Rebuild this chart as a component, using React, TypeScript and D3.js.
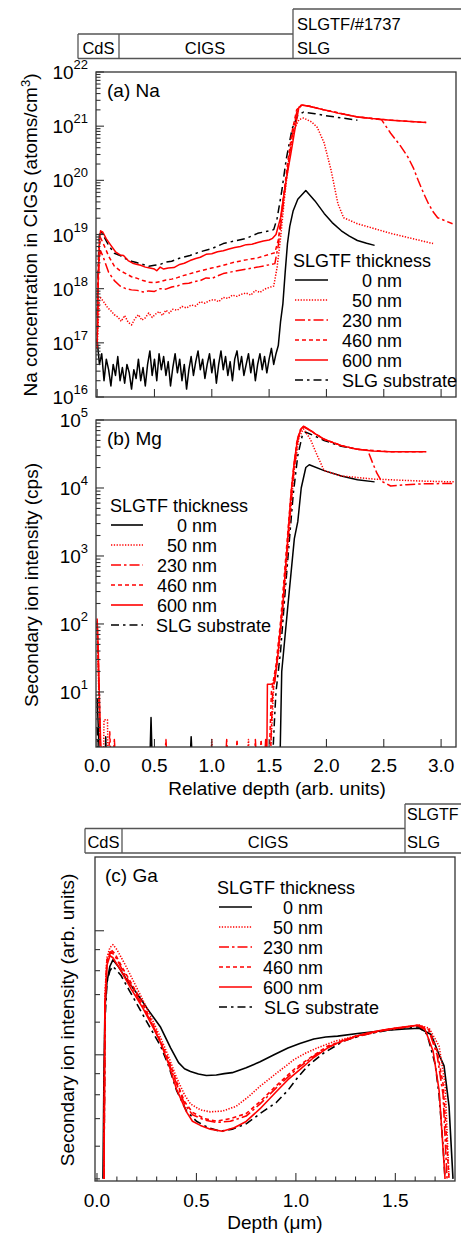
import React from "react";
import * as d3 from "d3";

type P = [number, number][];

// ---------------- Panel (a) Na concentration (atoms/cm3) vs relative depth ----------------
const na0nm: P = [
  [0.0, 1.12e17], [0.02, 4.0e16], [0.04, 6.3e16], [0.06, 2.0e16], [0.08, 5.0e16], [0.1, 3.2e16],
  [0.12, 1.6e16], [0.14, 4.0e16], [0.16, 2.5e16], [0.18, 5.6e16], [0.2, 2.0e16], [0.22, 3.5e16],
  [0.24, 1.8e16], [0.26, 4.0e16], [0.28, 2.8e16], [0.3, 1.4e16], [0.32, 3.2e16], [0.34, 2.2e16],
  [0.36, 5.0e16], [0.38, 2.0e16], [0.4, 3.5e16], [0.42, 1.6e16], [0.44, 4.0e16], [0.46, 7.1e16],
  [0.48, 2.5e16], [0.5, 5.0e16], [0.52, 2.0e16], [0.54, 6.3e16], [0.56, 3.2e16], [0.58, 5.6e16],
  [0.6, 2.5e16], [0.62, 4.5e16], [0.64, 1.6e16], [0.66, 3.5e16], [0.68, 6.3e16], [0.7, 2.8e16],
  [0.72, 5.0e16], [0.74, 2.0e16], [0.76, 4.0e16], [0.78, 1.4e16], [0.8, 3.2e16], [0.82, 5.6e16],
  [0.84, 2.5e16], [0.86, 4.5e16], [0.88, 7.1e16], [0.9, 3.2e16], [0.92, 5.0e16], [0.94, 2.2e16],
  [0.96, 4.0e16], [0.98, 6.3e16], [1.0, 2.8e16], [1.02, 5.0e16], [1.04, 1.8e16], [1.06, 4.0e16],
  [1.08, 7.1e16], [1.1, 3.2e16], [1.12, 5.6e16], [1.14, 2.5e16], [1.16, 4.5e16], [1.18, 2.0e16],
  [1.2, 5.0e16], [1.22, 7.1e16], [1.24, 3.2e16], [1.26, 5.6e16], [1.28, 2.5e16], [1.3, 4.0e16],
  [1.32, 6.3e16], [1.34, 2.8e16], [1.36, 5.0e16], [1.38, 2.0e16], [1.4, 4.0e16], [1.42, 6.3e16],
  [1.44, 3.2e16], [1.46, 5.6e16], [1.48, 2.8e16], [1.5, 5.0e16], [1.52, 7.9e16], [1.54, 4.0e16],
  [1.56, 6.3e16], [1.58, 8.9e16], [1.6, 2.5e17], [1.62, 5.25e17], [1.64, 2.0e18], [1.66, 6.8e18],
  [1.68, 1.41e19], [1.71, 2.75e19], [1.75, 4.47e19], [1.82, 6.46e19], [1.9, 4.17e19], [1.98, 2.45e19],
  [2.05, 1.66e19], [2.13, 1.17e19], [2.2, 9.3e18], [2.27, 7.76e18], [2.35, 6.9e18], [2.42, 6.3e18],
];
const na50nm: P = [
  [0.0, 7.9e16], [0.01, 2.5e17], [0.02, 6.3e17], [0.03, 6.8e17], [0.06, 5.6e17], [0.09, 4.5e17],
  [0.12, 3.9e17], [0.15, 3.3e17], [0.18, 3.0e17], [0.21, 2.5e17], [0.24, 3.2e17], [0.27, 2.4e17],
  [0.3, 2.14e17], [0.33, 2.8e17], [0.36, 3.3e17], [0.39, 2.63e17], [0.42, 2.9e17], [0.45, 3.55e17],
  [0.48, 2.95e17], [0.51, 3.4e17], [0.54, 3.8e17], [0.57, 3.2e17], [0.6, 4.0e17], [0.63, 3.55e17],
  [0.66, 4.17e17], [0.7, 4.0e17], [0.74, 4.7e17], [0.78, 4.4e17], [0.82, 5.0e17], [0.86, 4.8e17],
  [0.9, 5.75e17], [0.94, 5.4e17], [0.98, 6.0e17], [1.02, 6.3e17], [1.06, 5.75e17], [1.1, 6.9e17],
  [1.14, 6.6e17], [1.18, 7.6e17], [1.22, 7.2e17], [1.26, 7.9e17], [1.3, 8.3e17], [1.34, 7.6e17],
  [1.38, 9.3e17], [1.42, 8.5e17], [1.46, 9.8e17], [1.5, 1.05e18], [1.54, 1.12e18], [1.57, 2.5e18],
  [1.6, 8.7e18], [1.64, 6.3e19], [1.68, 3.16e20], [1.72, 8.9e20], [1.76, 1.32e21], [1.8, 1.41e21],
  [1.87, 1.2e21], [1.92, 9.5e20], [1.98, 4.9e20], [2.04, 1.55e20], [2.1, 3.7e19], [2.15, 2.04e19],
  [2.27, 1.58e19], [2.56, 1.05e19], [2.93, 6.8e18],
];
const na230nm: P = [
  [0.0, 7.9e16], [0.01, 1.26e18], [0.02, 4.0e18], [0.03, 5.0e18], [0.05, 4.0e18], [0.1, 2.0e18],
  [0.15, 1.41e18], [0.2, 1.12e18], [0.25, 1.0e18], [0.3, 9.5e17], [0.35, 9.3e17], [0.4, 8.7e17],
  [0.45, 9.1e17], [0.5, 8.9e17], [0.55, 1.0e18], [0.6, 9.8e17], [0.65, 1.07e18], [0.7, 1.12e18],
  [0.75, 1.23e18], [0.8, 1.26e18], [0.85, 1.35e18], [0.9, 1.41e18], [0.95, 1.58e18], [1.0, 1.55e18],
  [1.1, 1.9e18], [1.2, 2.1e18], [1.3, 2.3e18], [1.4, 2.5e18], [1.5, 2.75e18], [1.55, 2.9e18],
  [1.58, 6.3e18], [1.62, 3.16e19], [1.66, 1.58e20], [1.7, 6.3e20], [1.74, 1.78e21], [1.78, 2.45e21],
  [1.85, 2.34e21], [1.98, 2.0e21], [2.27, 1.48e21], [2.48, 1.32e21], [2.56, 7.4e20], [2.64, 4.5e20],
  [2.71, 2.7e20], [2.76, 1.66e20], [2.8, 1.0e20], [2.85, 5.6e19], [2.89, 3.7e19], [2.93, 2.63e19],
  [2.97, 2.04e19], [3.04, 1.78e19], [3.1, 1.58e19],
];
const na460nm: P = [
  [0.0, 1.0e17], [0.01, 1.6e18], [0.02, 6.3e18], [0.03, 8.7e18], [0.05, 7.1e18], [0.1, 4.0e18],
  [0.15, 2.6e18], [0.2, 2.14e18], [0.25, 1.9e18], [0.3, 1.66e18], [0.35, 1.55e18], [0.4, 1.41e18],
  [0.45, 1.32e18], [0.5, 1.29e18], [0.55, 1.35e18], [0.6, 1.45e18], [0.65, 1.5e18], [0.7, 1.6e18],
  [0.75, 1.74e18], [0.8, 1.86e18], [0.85, 2.0e18], [0.9, 2.14e18], [1.0, 2.4e18], [1.1, 2.7e18],
  [1.2, 3.1e18], [1.3, 3.4e18], [1.4, 3.7e18], [1.5, 4.3e18], [1.55, 4.6e18], [1.58, 7.9e18],
  [1.62, 4.0e19], [1.66, 2.0e20], [1.7, 7.9e20], [1.74, 2.0e21], [1.78, 2.45e21], [1.85, 2.34e21],
  [1.98, 2.0e21], [2.27, 1.48e21], [2.56, 1.29e21], [2.87, 1.17e21],
];
const na600nm: P = [
  [0.0, 1.0e17], [0.01, 2.0e18], [0.02, 7.9e18], [0.03, 1.17e19], [0.05, 1.1e19], [0.08, 8.3e18],
  [0.12, 6.3e18], [0.16, 4.8e18], [0.2, 4.2e18], [0.23, 4.1e18], [0.27, 3.3e18], [0.31, 2.95e18],
  [0.35, 2.8e18], [0.38, 2.7e18], [0.42, 2.5e18], [0.46, 2.4e18], [0.5, 2.3e18], [0.52, 2.14e18],
  [0.55, 2.5e18], [0.58, 2.3e18], [0.62, 2.4e18], [0.67, 2.45e18], [0.72, 2.8e18], [0.76, 2.95e18],
  [0.81, 3.3e18], [0.86, 3.6e18], [0.9, 3.8e18], [0.95, 4.3e18], [1.0, 4.4e18], [1.05, 4.8e18],
  [1.1, 5.0e18], [1.15, 5.4e18], [1.2, 5.75e18], [1.25, 6.0e18], [1.3, 6.5e18], [1.35, 6.6e18],
  [1.4, 7.1e18], [1.45, 7.6e18], [1.5, 7.9e18], [1.53, 8.5e18], [1.56, 1.0e19], [1.6, 2.04e19],
  [1.64, 7.9e19], [1.69, 3.16e20], [1.73, 1.0e21], [1.76, 2.24e21], [1.79, 2.45e21], [1.85, 2.34e21],
  [1.92, 2.14e21], [1.98, 2.0e21], [2.1, 1.74e21], [2.27, 1.48e21], [2.4, 1.38e21], [2.56, 1.29e21],
  [2.7, 1.23e21], [2.87, 1.17e21],
];
const naSLG: P = [
  [0.0, 3.2e17], [0.01, 3.2e18], [0.02, 1.0e19], [0.03, 1.17e19], [0.05, 1.0e19], [0.1, 6.3e18],
  [0.15, 4.5e18], [0.2, 4.1e18], [0.25, 3.55e18], [0.3, 3.2e18], [0.35, 3.0e18], [0.4, 2.8e18],
  [0.45, 2.6e18], [0.5, 2.7e18], [0.55, 2.8e18], [0.6, 3.1e18], [0.65, 3.2e18], [0.7, 3.55e18],
  [0.81, 4.1e18], [0.9, 4.8e18], [1.0, 5.5e18], [1.1, 6.8e18], [1.2, 7.6e18], [1.3, 8.5e18],
  [1.4, 1.05e19], [1.5, 1.17e19], [1.54, 1.23e19], [1.57, 2.0e19], [1.61, 6.3e19], [1.65, 2.5e20],
  [1.7, 8.9e20], [1.75, 1.58e21], [1.8, 1.82e21], [1.9, 1.7e21], [1.98, 1.58e21], [2.1, 1.45e21],
  [2.27, 1.29e21],
];

// ---------------- Panel (b) Mg secondary ion intensity (cps) ----------------
const mg0nm: P = [
  [0.0, 8], [0.01, 3], [0.02, 1], [0.07, 1], [0.075, 2.2], [0.08, 1], [0.46, 1], [0.47, 4.2], [0.48, 1],
  [0.81, 1], [0.82, 2.2], [0.83, 1], [1.595, 1], [1.61, 20], [1.66, 160], [1.72, 1800], [1.75, 3200],
  [1.78, 10000], [1.82, 20000], [1.85, 22000], [1.98, 18000], [2.13, 15000], [2.27, 13200], [2.42, 12300],
];
const mg50nm: P = [
  [0.0, 90], [0.01, 20], [0.02, 4], [0.03, 1], [0.055, 1], [0.06, 3.9], [0.09, 3.9], [0.095, 1],
  [0.99, 1], [1.0, 2.0], [1.01, 1], [1.31, 1], [1.32, 2.0], [1.33, 1], [1.51, 1], [1.54, 12],
  [1.58, 35], [1.62, 160], [1.66, 1100], [1.69, 5000], [1.72, 19000], [1.76, 55000], [1.8, 74000],
  [1.86, 52000], [1.92, 30000], [1.98, 18000], [2.13, 15000], [2.42, 13500], [2.85, 12600], [3.12, 12300],
];
const mg230nm: P = [
  [0.0, 100], [0.01, 25], [0.02, 5], [0.03, 1], [0.14, 1], [0.15, 2.0], [0.16, 1], [0.59, 1], [0.6, 2.0],
  [0.61, 1], [1.12, 1], [1.13, 2.0], [1.14, 1], [1.37, 1], [1.38, 2.0], [1.39, 1], [1.51, 1], [1.53, 9],
  [1.57, 30], [1.61, 130], [1.65, 900], [1.68, 3500], [1.71, 14000], [1.75, 50000], [1.78, 74000],
  [1.8, 80000], [1.85, 71000], [1.98, 52000], [2.13, 42000], [2.27, 37000], [2.36, 36000], [2.4, 24000],
  [2.44, 16500], [2.48, 12600], [2.56, 10700], [2.7, 11200], [2.85, 11500], [3.12, 11700],
];
const mg460nm: P = [
  [0.0, 110], [0.01, 30], [0.02, 6], [0.03, 1], [0.1, 1], [0.11, 2.6], [0.12, 1], [1.21, 1], [1.22, 2.0],
  [1.23, 1], [1.42, 1], [1.43, 2.0], [1.44, 1], [1.5, 1], [1.52, 10], [1.56, 25], [1.6, 110], [1.64, 750],
  [1.67, 3100], [1.7, 12500], [1.74, 46000], [1.77, 71000], [1.8, 80000], [1.85, 72000], [1.98, 52000],
  [2.13, 42000], [2.27, 37000], [2.56, 34000], [2.87, 34000],
];
const mg600nm: P = [
  [0.0, 120], [0.01, 40], [0.02, 8], [0.03, 2], [0.04, 1], [1.46, 1], [1.47, 2.0], [1.475, 1], [1.48, 1],
  [1.485, 13], [1.52, 13], [1.55, 14], [1.58, 40], [1.62, 200], [1.66, 1600], [1.69, 8000], [1.72, 25000],
  [1.75, 55000], [1.78, 75000], [1.8, 81000], [1.85, 72000], [1.9, 63000], [1.98, 52000], [2.13, 42000],
  [2.27, 37000], [2.4, 35000], [2.56, 34000], [2.87, 34000],
];
const mgSLG: P = [
  [0.0, 3], [0.01, 1], [1.53, 1], [1.55, 5], [1.56, 10], [1.6, 40], [1.64, 300], [1.68, 2000],
  [1.71, 8000], [1.75, 30000], [1.79, 60000], [1.82, 66000], [1.9, 58000], [1.98, 50000],
  [2.13, 41000], [2.27, 37000],
];

// ---------------- Panel (c) Ga secondary ion intensity (arb. units) vs depth (um) ----------------
const ga0nm: P = [
  [0.03, 0.5], [0.035, 0.9], [0.04, 1.3], [0.05, 1.5], [0.065, 1.64], [0.08, 1.7], [0.11, 1.63],
  [0.15, 1.52], [0.2, 1.41], [0.26, 1.28], [0.32, 1.166], [0.37, 1.04], [0.41, 0.957], [0.44, 0.925],
  [0.47, 0.911], [0.51, 0.898], [0.55, 0.891], [0.6, 0.893], [0.64, 0.9], [0.68, 0.905], [0.75, 0.93],
  [0.82, 0.962], [0.89, 1.0], [0.96, 1.039], [1.02, 1.065], [1.09, 1.092], [1.15, 1.105], [1.21, 1.11],
  [1.32, 1.128], [1.46, 1.147], [1.55, 1.155], [1.62, 1.16], [1.68, 1.12], [1.72, 1.0], [1.745, 0.94],
  [1.77, 0.75], [1.79, 0.5],
];
const ga50nm: P = [
  [0.035, 0.5], [0.04, 1.4], [0.05, 1.72], [0.065, 1.82], [0.08, 1.85], [0.1, 1.8], [0.14, 1.66],
  [0.18, 1.52], [0.23, 1.36], [0.28, 1.21], [0.32, 1.1], [0.36, 0.99], [0.4, 0.88], [0.44, 0.8],
  [0.47, 0.76], [0.52, 0.735], [0.57, 0.727], [0.63, 0.73], [0.7, 0.75], [0.76, 0.79], [0.82, 0.839],
  [0.9, 0.9], [0.99, 0.973], [1.05, 1.01], [1.12, 1.045], [1.2, 1.08], [1.3, 1.11], [1.45, 1.15],
  [1.62, 1.18], [1.67, 1.16], [1.72, 1.05], [1.75, 0.85], [1.77, 0.5],
];
const ga230nm: P = [
  [0.035, 0.5], [0.04, 1.3], [0.05, 1.68], [0.07, 1.78], [0.09, 1.74], [0.13, 1.6], [0.18, 1.45],
  [0.23, 1.31], [0.28, 1.18], [0.32, 1.07], [0.36, 0.96], [0.4, 0.85], [0.44, 0.76], [0.48, 0.715],
  [0.54, 0.695], [0.6, 0.685], [0.67, 0.69], [0.75, 0.71], [0.82, 0.76], [0.9, 0.83], [1.0, 0.92],
  [1.08, 0.985], [1.16, 1.045], [1.3, 1.105], [1.45, 1.148], [1.62, 1.18], [1.67, 1.14], [1.71, 1.0],
  [1.74, 0.8], [1.76, 0.5],
];
const ga460nm: P = [
  [0.035, 0.5], [0.04, 1.35], [0.05, 1.7], [0.07, 1.8], [0.09, 1.76], [0.13, 1.62], [0.18, 1.47],
  [0.23, 1.33], [0.28, 1.19], [0.32, 1.08], [0.36, 0.97], [0.4, 0.86], [0.44, 0.77], [0.48, 0.725],
  [0.54, 0.7], [0.6, 0.69], [0.67, 0.7], [0.75, 0.72], [0.82, 0.77], [0.9, 0.84], [1.0, 0.93],
  [1.08, 0.99], [1.16, 1.05], [1.3, 1.11], [1.45, 1.15], [1.62, 1.18], [1.67, 1.15], [1.71, 1.02],
  [1.74, 0.85], [1.77, 0.5],
];
const ga600nm: P = [
  [0.035, 0.5], [0.04, 1.3], [0.05, 1.65], [0.065, 1.74], [0.08, 1.72], [0.12, 1.6], [0.17, 1.45],
  [0.23, 1.3], [0.28, 1.17], [0.32, 1.07], [0.36, 0.95], [0.4, 0.825], [0.45, 0.727], [0.48, 0.69],
  [0.52, 0.674], [0.57, 0.66], [0.63, 0.652], [0.69, 0.665], [0.75, 0.689], [0.82, 0.74], [0.9, 0.812],
  [0.96, 0.87], [1.02, 0.921], [1.09, 0.985], [1.16, 1.039], [1.22, 1.075], [1.29, 1.104], [1.36, 1.13],
  [1.43, 1.147], [1.52, 1.165], [1.61, 1.179], [1.65, 1.15], [1.69, 1.02], [1.72, 0.82], [1.75, 0.5],
];
const gaSLG: P = [
  [0.035, 0.5], [0.04, 1.2], [0.05, 1.5], [0.065, 1.6], [0.08, 1.64], [0.12, 1.56], [0.16, 1.44],
  [0.2, 1.33], [0.26, 1.18], [0.32, 1.05], [0.36, 0.94], [0.4, 0.82], [0.45, 0.73], [0.5, 0.69],
  [0.56, 0.665], [0.62, 0.652], [0.68, 0.66], [0.75, 0.68], [0.82, 0.72], [0.9, 0.765], [0.96, 0.82],
  [1.0, 0.87], [1.06, 0.94], [1.14, 1.01], [1.24, 1.08], [1.33, 1.115], [1.43, 1.14], [1.52, 1.16],
  [1.62, 1.17], [1.66, 1.12], [1.7, 0.95], [1.72, 0.8], [1.74, 0.6], [1.75, 0.5],
];

// ---------------- labels / ticks ----------------
const legendLabels = ["0 nm", "50 nm", "230 nm", "460 nm", "600 nm", "SLG substrate"];
const relDepthTicks = [0, 0.5, 1.0, 1.5, 2.0, 2.5, 3.0];
const depthMajorTicks = [0, 0.5, 1.0, 1.5];
const depthMinorTicks = [0.1, 0.2, 0.3, 0.4, 0.6, 0.7, 0.8, 0.9, 1.1, 1.2, 1.3, 1.4, 1.6, 1.7];
const naDecades = [16, 17, 18, 19, 20, 21, 22];
const mgDecades = [1, 2, 3, 4, 5];
const gaMajorTicks = [1, 2];
const gaMinorTicks = [0.5, 0.6, 0.7, 0.8, 0.9, 1.2, 1.4, 1.6, 1.8];

const RED = "#ff0000";
const styles = [
  { stroke: "#000", dash: undefined as string | undefined },
  { stroke: RED, dash: "1.3 1.5" },
  { stroke: RED, dash: "10 3 2.5 3" },
  { stroke: RED, dash: "4 3" },
  { stroke: RED, dash: undefined },
  { stroke: "#000", dash: "8 4 2.5 4" },
];

const FONT = "'Liberation Sans', Arial, Helvetica, sans-serif";
const AX = "#333";

function logMinors(lo: number, hi: number, min: number, max: number) {
  const out: number[] = [];
  for (let e = lo; e <= hi; e++) {
    for (let k = 2; k <= 9; k++) {
      const v = k * Math.pow(10, e);
      if (v > min && v < max) out.push(v);
    }
  }
  return out;
}

function Legend({ tx, ty, x0, x1, endX, slgX }: { tx: number; ty: number; x0: number; x1: number; endX: number; slgX: number }) {
  return (
    <g fontFamily={FONT} fontSize={18} fill="#000">
      <text x={tx} y={ty + 6.5}>SLGTF thickness</text>
      {legendLabels.map((lab, i) => {
        const cy = ty + 20 * (i + 1);
        const st = styles[i];
        return (
          <g key={lab}>
            <line x1={x0} x2={x1} y1={cy} y2={cy} stroke={st.stroke} strokeWidth={1.6} strokeDasharray={st.dash} />
            {i < 5 ? (
              <text x={endX} y={cy + 6.5} textAnchor="end">{lab}</text>
            ) : (
              <text x={slgX} y={cy + 6.5}>{lab}</text>
            )}
          </g>
        );
      })}
    </g>
  );
}

export default function App() {
  // panel geometry
  const A = { l: 96, r: 456, t: 72, b: 397 };
  const B = { l: 96, r: 456, t: 420, b: 747 };
  const C = { l: 95, r: 455, t: 857, b: 1181 };

  const xAB = d3.scaleLinear().domain([-0.01, 3.13]).range([A.l, A.r]);
  const yA = d3.scaleLog().domain([1e16, 1e22]).range([A.b, A.t]);
  const yB = d3.scaleLog().domain([1.55, 1e5]).range([B.b, B.t]);
  const xC = d3.scaleLinear().domain([-0.01, 1.8]).range([C.l, C.r]);
  const yC = d3.scaleLog().domain([0.494, 3.02]).range([C.b, C.t]);

  const lineA = d3.line<[number, number]>().x((d) => xAB(d[0])).y((d) => yA(d[1]));
  const lineB = d3.line<[number, number]>().x((d) => xAB(d[0])).y((d) => yB(d[1]));
  const lineC = d3.line<[number, number]>().x((d) => xC(d[0])).y((d) => yC(d[1]));

  const naSeries = [na0nm, na50nm, na230nm, na460nm, na600nm, naSLG];
  const mgSeries = [mg0nm, mg50nm, mg230nm, mg460nm, mg600nm, mgSLG];
  const gaSeries = [ga0nm, ga50nm, ga230nm, ga460nm, ga600nm, gaSLG];
  const order = [0, 5, 1, 2, 3, 4];

  const naMinor = logMinors(16, 21, 1e16, 1e22);
  const mgMinor = logMinors(0, 4, 1.55, 1e5);

  const headerStroke = "#555";

  return (
    <svg width={461} height={1233} style={{ position: "absolute", left: 0, top: 0, background: "#fff" }} fontFamily={FONT}>
      <defs>
        <clipPath id="clipA"><rect x={A.l} y={A.t} width={A.r - A.l} height={A.b - A.t} /></clipPath>
        <clipPath id="clipB"><rect x={B.l} y={B.t} width={B.r - B.l} height={B.b - B.t} /></clipPath>
        <clipPath id="clipC"><rect x={C.l} y={C.t} width={C.r - C.l} height={C.b - C.t} /></clipPath>
      </defs>
      <rect x={0} y={0} width={461} height={1233} fill="#fff" />

      {/* ---------- header (a) ---------- */}
      <g stroke={headerStroke} strokeWidth={1.3} fill="none">
        <line x1={293} x2={461} y1={9} y2={9} />
        <line x1={78} x2={293} y1={34} y2={34} />
        <line x1={78} x2={461} y1={58.5} y2={58.5} />
        <line x1={78} x2={78} y1={34} y2={58.5} />
        <line x1={119} x2={119} y1={34} y2={58.5} />
        <line x1={293} x2={293} y1={9} y2={58.5} />
      </g>
      <g fontSize={16.5} fill="#000">
        <text x={98.5} y={54} textAnchor="middle">CdS</text>
        <text x={205} y={54} textAnchor="middle">CIGS</text>
        <text x={297} y={54}>SLG</text>
        <text x={297} y={29.5}>SLGTF/#1737</text>
      </g>

      {/* ---------- panel (a) ---------- */}
      <g clipPath="url(#clipA)" fill="none">
        {order.map((i) => (
          <path key={i} d={lineA(naSeries[i]) || ""} stroke={styles[i].stroke} strokeWidth={1.5} strokeDasharray={styles[i].dash} strokeLinejoin="round" />
        ))}
      </g>
      <rect x={A.l} y={A.t} width={A.r - A.l} height={A.b - A.t} fill="none" stroke={AX} strokeWidth={1.3} />
      <g stroke={AX} strokeWidth={1.1}>
        {naDecades.map((e) => (
          <line key={e} x1={A.l} x2={A.l + 8} y1={yA(Math.pow(10, e))} y2={yA(Math.pow(10, e))} />
        ))}
        {naMinor.map((v, i) => (
          <line key={i} x1={A.l} x2={A.l + 4.5} y1={yA(v)} y2={yA(v)} />
        ))}
        {relDepthTicks.map((t) => (
          <line key={t} x1={xAB(t)} x2={xAB(t)} y1={A.b} y2={A.b - 8} />
        ))}
      </g>
      <g fontSize={19} fill="#000">
        {naDecades.map((e) => (
          <text key={e} x={88} y={yA(Math.pow(10, e)) + 7} textAnchor="end">
            10<tspan dy={-10} fontSize={13}>{e}</tspan>
          </text>
        ))}
        <text x={107} y={97}>(a) Na</text>
        <text transform="translate(37,235) rotate(-90)" textAnchor="middle">
          Na concentration in CIGS (atoms/cm<tspan dy={-7} fontSize={13}>3</tspan><tspan dy={7}>)</tspan>
        </text>
      </g>
      <Legend tx={293} ty={260} x0={295} x1={328} endX={402} slgX={342} />

      {/* ---------- panel (b) ---------- */}
      <g clipPath="url(#clipB)" fill="none">
        {order.map((i) => (
          <path key={i} d={lineB(mgSeries[i]) || ""} stroke={styles[i].stroke} strokeWidth={1.5} strokeDasharray={styles[i].dash} strokeLinejoin="round" />
        ))}
      </g>
      <rect x={B.l} y={B.t} width={B.r - B.l} height={B.b - B.t} fill="none" stroke={AX} strokeWidth={1.3} />
      <g stroke={AX} strokeWidth={1.1}>
        {mgDecades.map((e) => (
          <line key={e} x1={B.l} x2={B.l + 8} y1={yB(Math.pow(10, e))} y2={yB(Math.pow(10, e))} />
        ))}
        {mgMinor.map((v, i) => (
          <line key={i} x1={B.l} x2={B.l + 4.5} y1={yB(v)} y2={yB(v)} />
        ))}
        {relDepthTicks.map((t) => (
          <line key={t} x1={xAB(t)} x2={xAB(t)} y1={B.b} y2={B.b - 8} />
        ))}
      </g>
      <g fontSize={19} fill="#000">
        {mgDecades.map((e) => (
          <text key={e} x={88} y={yB(Math.pow(10, e)) + 7} textAnchor="end">
            10<tspan dy={-10} fontSize={13}>{e}</tspan>
          </text>
        ))}
        {relDepthTicks.map((t) => (
          <text key={t} x={xAB(t)} y={772} textAnchor="middle">{t.toFixed(1)}</text>
        ))}
        <text x={(B.l + B.r) / 2 + 1} y={795} textAnchor="middle">Relative depth (arb. units)</text>
        <text x={107} y={445}>(b) Mg</text>
        <text transform="translate(38,585) rotate(-90)" textAnchor="middle">Secondary ion intensity (cps)</text>
      </g>
      <Legend tx={110} ty={505} x0={111} x1={143} endX={217} slgX={156} />

      {/* ---------- header (c) ---------- */}
      <g stroke={headerStroke} strokeWidth={1.3} fill="none">
        <line x1={405} x2={461} y1={804} y2={804} />
        <line x1={85} x2={405} y1={828.5} y2={828.5} />
        <line x1={85} x2={461} y1={853} y2={853} />
        <line x1={85} x2={85} y1={828.5} y2={853} />
        <line x1={122} x2={122} y1={828.5} y2={853} />
        <line x1={405} x2={405} y1={804} y2={853} />
      </g>
      <g fontSize={16.5} fill="#000">
        <text x={103.5} y={848} textAnchor="middle">CdS</text>
        <text x={268} y={848} textAnchor="middle">CIGS</text>
        <text x={407} y={848}>SLG</text>
        <text x={407} y={820} fontSize={16}>SLGTF</text>
      </g>

      {/* ---------- panel (c) ---------- */}
      <g clipPath="url(#clipC)" fill="none">
        {order.map((i) => (
          <path key={i} d={lineC(gaSeries[i]) || ""} stroke={styles[i].stroke} strokeWidth={1.6} strokeDasharray={styles[i].dash} strokeLinejoin="round" />
        ))}
      </g>
      <rect x={C.l} y={C.t} width={C.r - C.l} height={C.b - C.t} fill="none" stroke={AX} strokeWidth={1.3} />
      <g stroke={AX} strokeWidth={1.1}>
        {gaMajorTicks.map((v) => (
          <line key={v} x1={C.l} x2={C.l + 9} y1={yC(v)} y2={yC(v)} />
        ))}
        {gaMinorTicks.map((v) => (
          <line key={v} x1={C.l} x2={C.l + 5} y1={yC(v)} y2={yC(v)} />
        ))}
        {depthMajorTicks.map((t) => (
          <line key={t} x1={xC(t)} x2={xC(t)} y1={C.b} y2={C.b - 8} />
        ))}
        {depthMinorTicks.map((t) => (
          <line key={t} x1={xC(t)} x2={xC(t)} y1={C.b} y2={C.b - 4.5} />
        ))}
      </g>
      <g fontSize={19} fill="#000">
        {depthMajorTicks.map((t) => (
          <text key={t} x={xC(t)} y={1207} textAnchor="middle">{t.toFixed(1)}</text>
        ))}
        <text x={(C.l + C.r) / 2} y={1229} textAnchor="middle">Depth (μm)</text>
        <text x={105} y={882}>(c) Ga</text>
        <text transform="translate(74,1020) rotate(-90)" textAnchor="middle">Secondary ion intensity (arb. units)</text>
      </g>
      <Legend tx={217} ty={887} x0={219} x1={252} endX={323} slgX={264} />
    </svg>
  );
}
